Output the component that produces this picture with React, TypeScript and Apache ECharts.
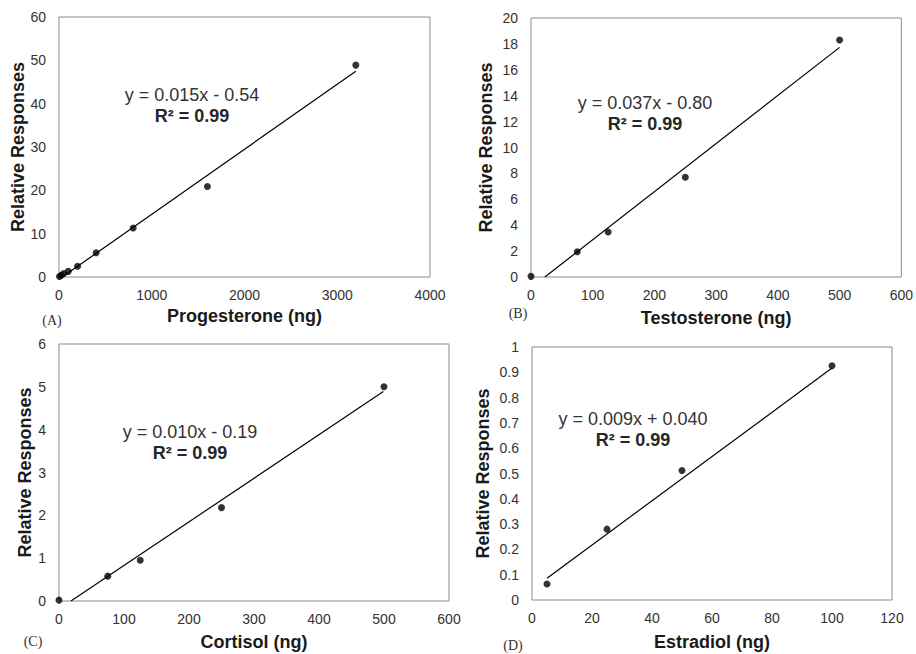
import React, { useEffect, useRef } from "react";
import * as echarts from "echarts";

// Panel A: Progesterone
const progesteroneX = [5, 25, 50, 100, 200, 400, 800, 1600, 3200];
const progesteroneY = [0.1, 0.4, 0.8, 1.3, 2.5, 5.6, 11.3, 20.9, 48.9];
const progesteroneTrend = [[36, 0], [3200, 47.5]];

// Panel B: Testosterone
const testosteroneX = [0, 75, 125, 250, 500];
const testosteroneY = [0.05, 1.95, 3.48, 7.7, 18.3];
const testosteroneTrend = [[22.5, 0], [500, 17.73]];

// Panel C: Cortisol
const cortisolX = [0, 75, 125, 250, 500];
const cortisolY = [0.02, 0.58, 0.95, 2.18, 5.0];
const cortisolTrend = [[18.4, 0], [499, 4.89]];

// Panel D: Estradiol
const estradiolX = [5, 25, 50, 100];
const estradiolY = [0.063, 0.28, 0.512, 0.926];
const estradiolTrend = [[5, 0.086], [100, 0.917]];

const panelNames = ["Progesterone (ng)", "Testosterone (ng)", "Cortisol (ng)", "Estradiol (ng)"];
const yTitle = "Relative Responses";
const equations = ["y = 0.015x - 0.54", "y = 0.037x - 0.80", "y = 0.010x - 0.19", "y = 0.009x + 0.040"];
const rSquared = ["R² = 0.99", "R² = 0.99", "R² = 0.99", "R² = 0.99"];
const panelLetters = ["(A)", "(B)", "(C)", "(D)"];

const xRanges = [[0, 4000, 1000], [0, 600, 100], [0, 600, 100], [0, 120, 20]];
const yRanges = [[0, 60, 10], [0, 20, 2], [0, 6, 1], [0, 1, 0.1]];

const SANS = "Arial, 'Liberation Sans', Helvetica, sans-serif";
const SERIF = "'Times New Roman', 'Liberation Serif', 'DejaVu Serif', serif";

const fmt = (v: number) => String(parseFloat(Number(v).toFixed(6)));

export default function App() {
  const ref = useRef<HTMLDivElement>(null);
  useEffect(() => {
    if (!ref.current) return;
    const chart = echarts.init(ref.current, undefined, { renderer: "svg" });

    const grids = [
      { left: 59, top: 17, width: 371, height: 260 },
      { left: 531, top: 18, width: 373, height: 259 },
      { left: 59, top: 344, width: 390, height: 257 },
      { left: 532, top: 347, width: 360, height: 253 },
    ];
    const xGaps = [30, 32, 32, 33];
    const yGaps = [32, 36, 23, 40];
    const eqPos = [
      [192, 95, 116],
      [645, 103, 124],
      [190, 432, 453],
      [633, 419, 440],
    ];
    const letterPos = [
      [52, 320],
      [518, 313],
      [33, 641],
      [513, 645],
    ];

    const pts = [
      progesteroneX.map((x, i) => [x, progesteroneY[i]]),
      testosteroneX.map((x, i) => [x, testosteroneY[i]]),
      cortisolX.map((x, i) => [x, cortisolY[i]]),
      estradiolX.map((x, i) => [x, estradiolY[i]]),
    ];
    const trends = [progesteroneTrend, testosteroneTrend, cortisolTrend, estradiolTrend];

    const series: any[] = [];
    for (let i = 0; i < 4; i++) {
      series.push({
        type: "line",
        xAxisIndex: i,
        yAxisIndex: i,
        data: trends[i],
        showSymbol: false,
        symbol: "none",
        lineStyle: { color: "#000", width: 1.2 },
        z: 2,
      });
      series.push({
        type: "scatter",
        xAxisIndex: i,
        yAxisIndex: i,
        data: pts[i],
        symbol: "circle",
        symbolSize: 7,
        itemStyle: { color: "#000" },
        z: 3,
      });
    }

    const graphic: any[] = [];
    for (let i = 0; i < 4; i++) {
      graphic.push({
        type: "text",
        x: eqPos[i][0],
        y: eqPos[i][1],
        style: {
          text: equations[i],
          fill: "#333",
          font: `18px ${SANS}`,
          align: "center",
          verticalAlign: "middle",
        },
      });
      graphic.push({
        type: "text",
        x: eqPos[i][0],
        y: eqPos[i][2],
        style: {
          text: rSquared[i],
          fill: "#262626",
          font: `bold 18px ${SANS}`,
          align: "center",
          verticalAlign: "middle",
        },
      });
      graphic.push({
        type: "text",
        x: letterPos[i][0],
        y: letterPos[i][1],
        style: {
          text: panelLetters[i],
          fill: "#333",
          font: `14px ${SERIF}`,
          align: "center",
          verticalAlign: "middle",
        },
      });
    }

    chart.setOption({
      animation: false,
      backgroundColor: "#fff",
      grid: grids.map((g) => ({ ...g, show: true, borderColor: "#8a8a8a", borderWidth: 1, backgroundColor: "transparent" })),
      xAxis: xRanges.map((r, i) => ({
        type: "value",
        gridIndex: i,
        min: r[0],
        max: r[1],
        interval: r[2],
        name: panelNames[i],
        nameLocation: "middle",
        nameGap: xGaps[i],
        nameTextStyle: { fontFamily: SANS, fontSize: 18, fontWeight: "bold", color: "#1a1a1a" },
        axisLine: { show: false },
        axisTick: { show: false },
        splitLine: { show: false },
        axisLabel: { fontFamily: SANS, fontSize: 14, color: "#333", margin: 11, formatter: fmt },
      })),
      yAxis: yRanges.map((r, i) => ({
        type: "value",
        gridIndex: i,
        min: r[0],
        max: r[1],
        interval: r[2],
        name: yTitle,
        nameLocation: "middle",
        nameGap: yGaps[i],
        nameTextStyle: { fontFamily: SANS, fontSize: 18, fontWeight: "bold", color: "#1a1a1a" },
        axisLine: { show: false },
        axisTick: { show: false },
        splitLine: { show: false },
        axisLabel: { fontFamily: SANS, fontSize: 14, color: "#333", margin: 13, formatter: fmt },
      })),
      series,
      graphic,
    });
    return () => chart.dispose();
  }, []);
  return (
    <div
      ref={ref}
      style={{ position: "fixed", left: 0, top: 0, width: 916, height: 654, background: "#fff" }}
    />
  );
}
